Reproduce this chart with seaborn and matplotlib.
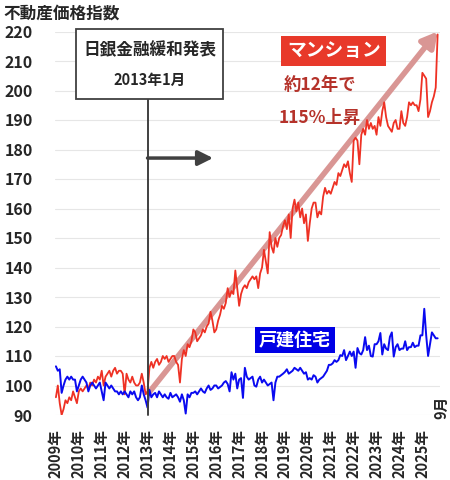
import numpy as np
import matplotlib
matplotlib.use("Agg")
import matplotlib.pyplot as plt
from matplotlib.patches import Rectangle
import seaborn as sns

# monthly index values, 2009-01 .. 2025-09
mansion_by_year = {
    2009: [96, 100, 94, 90, 92, 95, 94, 96, 95, 98, 96, 94],
    2010: [98, 99, 98, 99, 100, 99, 101, 100, 102, 101, 103, 102],
    2011: [105, 100, 103, 104, 105, 103, 105, 106, 104, 105, 105, 104],
    2012: [97, 104, 102, 101, 103, 101, 100, 100, 101, 104, 101, 97],
    2013: [98, 106, 108, 106, 108, 109, 107, 108, 110, 109, 110, 108],
    2014: [109, 110, 110, 108, 107, 101, 109, 112, 110, 114, 113, 115],
    2015: [119, 118, 115, 116, 117, 119, 118, 120, 121, 125, 122, 118],
    2016: [119, 122, 124, 127, 126, 128, 133, 130, 132, 131, 139, 133],
    2017: [127, 131, 133, 134, 133, 135, 136, 137, 136, 137, 133, 138],
    2018: [140, 146, 142, 138, 152, 147, 145, 150, 147, 150, 151, 154],
    2019: [156, 153, 158, 150, 160, 163, 159, 162, 157, 160, 155, 158],
    2020: [149, 155, 160, 162, 162, 157, 159, 158, 164, 167, 165, 166],
    2021: [165, 167, 169, 168, 172, 171, 173, 175, 174, 176, 172, 169],
    2022: [183, 184, 183, 175, 185, 187, 185, 190, 187, 189, 187, 188],
    2023: [185, 191, 188, 193, 196, 191, 188, 187, 186, 189, 190, 187],
    2024: [187, 193, 189, 188, 191, 196, 195, 196, 195, 195, 193, 197],
    2025: [206, 205, 204, 191, 193, 196, 198, 201, 219],
}
house_by_year = {
    2009: [106.5, 105, 105.5, 97.5, 100, 102, 103, 102, 103, 102, 102, 98],
    2010: [100, 102, 103, 102, 101, 98, 100, 101, 100, 99, 100, 101],
    2011: [98, 95, 101, 100, 99, 100, 99, 98, 98, 97, 98, 97],
    2012: [98, 97, 96, 98, 97, 98, 96, 95, 96, 100, 97, 95],
    2013: [92.5, 98.5, 96, 97, 97.5, 96, 98, 97, 96, 97, 96, 95.5],
    2014: [97.5, 96, 96.5, 97, 96, 94.5, 97, 95, 90.5, 97, 96, 97.5],
    2015: [97.5, 98, 97, 98, 99, 98, 97.5, 99, 100, 98.5, 99, 100],
    2016: [100, 99, 99.5, 100, 101, 101.5, 100.5, 98, 104.5, 102, 104, 99],
    2017: [102, 102.5, 95.8, 106, 103, 102, 102.5, 103, 100, 99.6, 102, 103],
    2018: [101, 102, 101, 100, 100.5, 101, 95, 101, 103, 103, 103.5, 104],
    2019: [104.6, 105.5, 104, 104.5, 105, 106, 105.5, 105, 106, 105, 104, 104.5],
    2020: [102, 102.5, 102, 103.5, 103, 101, 102, 102.5, 103, 104, 105, 107],
    2021: [107, 107.5, 108.6, 108, 108.6, 110.3, 110, 112, 108.6, 110, 111.5, 110],
    2022: [111.5, 106, 112.7, 111, 110.5, 112, 116.4, 112, 113.5, 110, 109.8, 114],
    2023: [114, 115, 117.8, 110.5, 114, 112.5, 112, 116.5, 118, 109.8, 113, 114],
    2024: [112, 112.5, 112.5, 115, 112, 113, 113, 114.5, 113, 113.5, 113.5, 117],
    2025: [117, 126, 117, 110, 114, 118, 117, 116, 116],
}

years = list(range(2009, 2026))
year_labels = [f"{y}年" for y in years]
y_ticks = list(range(90, 221, 10))

mansion = np.concatenate([mansion_by_year[y] for y in years])
house = np.concatenate([house_by_year[y] for y in years])
t = 2009 + np.arange(len(mansion)) / 12.0

boj_date = 2013.0
RED = "#EE3124"
BLUE = "#0A0AF0"
DARK = "#404040"

sns.set_style("white")
plt.rcParams['font.family'] = ['Noto Sans CJK JP', 'DejaVu Sans']

fig = plt.figure(figsize=(4.5, 4.8), dpi=100)
ax = fig.add_axes([55 / 450, 1 - 415 / 480, 385 / 450, 383.5 / 480])

# big trend arrow under the lines
ax.annotate('', xy=(t[-1], 220), xytext=(boj_date + 0.05, 97.5),
            arrowprops=dict(arrowstyle='-|>,head_width=0.5,head_length=0.9',
                            color='#D99694', lw=4, shrinkA=0, shrinkB=0),
            annotation_clip=False, zorder=1)

sns.lineplot(x=t, y=mansion, ax=ax, color=RED, linewidth=1.3, zorder=3)
sns.lineplot(x=t, y=house, ax=ax, color=BLUE, linewidth=1.4, zorder=3)

ax.set_xlim(2008.96, 2025.77)
ax.set_ylim(90, 220)
ax.set_yticks(y_ticks)
ax.set_yticklabels([str(v) for v in y_ticks], fontsize=11.5, fontweight='bold')
ax.set_xticks(years)
ax.set_xticklabels(year_labels, rotation=90, fontsize=10.5, fontweight='bold')
ax.tick_params(axis='y', length=0, pad=16)
ax.tick_params(axis='x', direction='in', length=5, color='#d9d9d9', pad=10)
ax.yaxis.grid(True, color='#e6e6e6', linewidth=0.8)
ax.set_xlabel('')
ax.set_ylabel('')
for s in ax.spines.values():
    s.set_visible(False)

# BOJ easing marker
ax.plot([boj_date, boj_date], [90, 197.1], color=DARK, lw=1.4, zorder=4, clip_on=False)
ax.add_patch(Rectangle((2009.87, 197.1), 6.42, 23.9, facecolor='white', edgecolor=DARK,
                       lw=1.3, clip_on=False, zorder=5))
ax.text(2013.1, 213.7, '日銀金融緩和発表', ha='center', va='center', fontsize=12,
        fontweight='bold', zorder=6)
ax.text(2013.1, 203.6, '2013年1月', ha='center', va='center', fontsize=10.5,
        fontweight='bold', zorder=6)
ax.annotate('', xy=(2015.86, 177.1), xytext=(boj_date, 177.1),
            arrowprops=dict(arrowstyle='-|>,head_width=0.45,head_length=0.9',
                            color=DARK, lw=2.5, shrinkA=0, shrinkB=0), zorder=4)

# labels
ax.text(2021.14, 213.4, 'マンション', ha='center', va='center', fontsize=13.5,
        fontweight='bold', color='white', zorder=6,
        bbox=dict(boxstyle='square,pad=0.3', facecolor='#E8392A', edgecolor='none'))
ax.text(2020.53, 201.9, '約12年で', ha='center', va='center', fontsize=12.5,
        fontweight='bold', color='#B5322A', zorder=6)
ax.text(2020.53, 190.7, '115%上昇', ha='center', va='center', fontsize=12.5,
        fontweight='bold', color='#B5322A', zorder=6)
ax.text(2019.44, 115.4, '戸建住宅', ha='center', va='center', fontsize=13,
        fontweight='bold', color='white', zorder=6,
        bbox=dict(boxstyle='square,pad=0.2', facecolor='#0000E6', edgecolor='none'))
ax.text(2025.82, 92.5, '9月', ha='center', va='center', fontsize=10.5,
        fontweight='bold', rotation=90, clip_on=False)

fig.text(3 / 450, 1 - 14 / 480, '不動産価格指数', ha='left', va='center',
         fontsize=12, fontweight='bold')

fig.savefig('out.png', dpi=100)
